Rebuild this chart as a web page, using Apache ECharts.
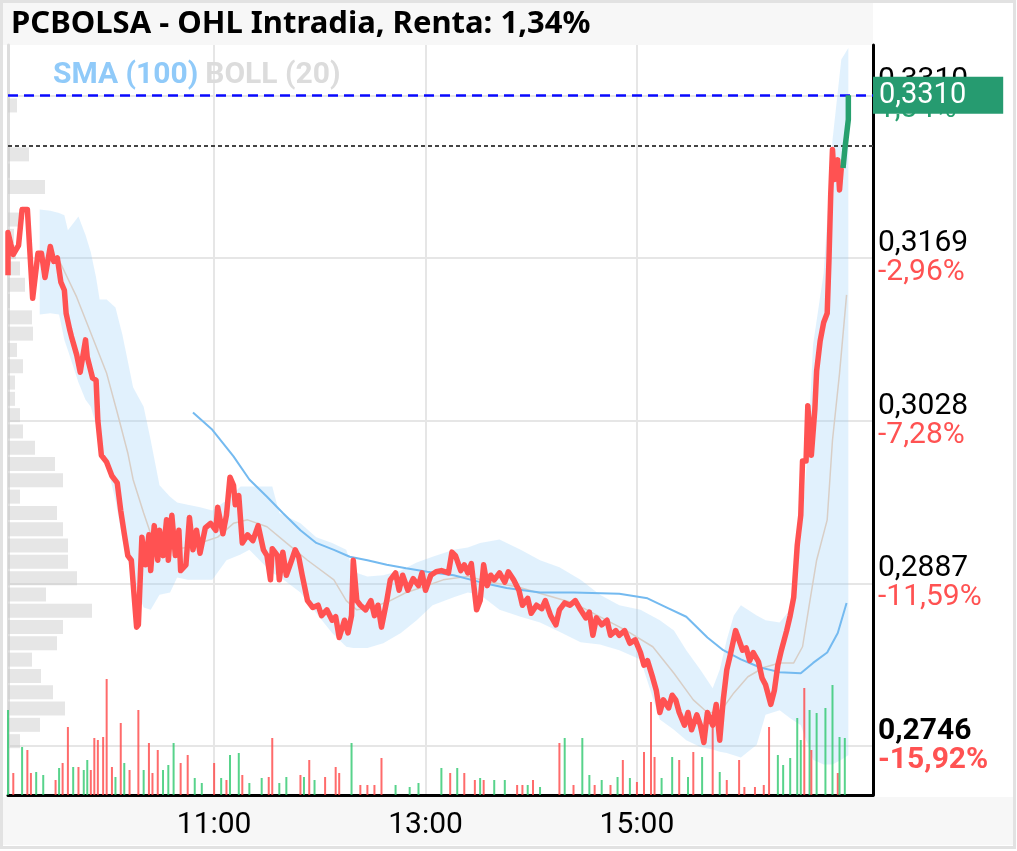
<!DOCTYPE html>
<html style="height: 100%">
<head>
<meta charset="utf-8">
</head>
<body style="height: 100%; margin: 0">
<div id="container" style="width: 1017px; height: 851px"></div>
<script type="text/javascript" src="https://cdn.jsdelivr.net/npm/echarts@6/dist/echarts.min.js"></script>
<script type="text/javascript">
var dom = document.getElementById('container');
var myChart = echarts.init(dom);

// minutes after 09:00
var timeTicks = [120, 240, 360];
var timeText = ['11:00', '13:00', '15:00'];

var priceTicks = [0.2746, 0.2887, 0.3028, 0.3169, 0.3310];
var tickText = ['0,2746', '0,2887', '0,3028', '0,3169', '0,3310'];
var tickPct = ['-15,92%', '-11,59%', '-7,28%', '-2,96%', '1,34%'];

var lastPrice = 0.3310;
var prevClose = 0.3266;

// intraday price (red part)
var priceMin = [3,3,6,9,11,14,17,20,22,24,27,29,31,33,35,36,38,39,42,44,
  47,48,51,53,54,56,59,62,65,67,69,71,73,76,77,79,81,83,84,86,
  88,89,91,93,94,96,98,100,101,104,106,108,110,112,115,118,121,122,125,127,
  129,131,132,134,136,139,142,145,148,150,152,153,156,157,159,161,164,166,168,170,
  173,176,179,181,184,187,189,191,194,196,198,199,201,203,206,209,211,213,215,218,
  220,223,225,227,230,233,236,238,240,243,246,249,253,255,257,260,262,264,266,269,
  271,273,275,277,279,282,285,287,290,293,295,298,300,303,306,308,311,314,316,319,
  322,325,328,331,333,335,337,340,343,345,348,350,353,356,359,362,364,366,369,371,
  373,375,378,380,382,384,387,389,391,394,396,398,400,403,405,407,409,411,413,416,
  417,420,422,424,426,429,431,433,436,438,440,442,445,447,449,451,453,454,456,457,
  459,461,462,464,466,468,469,470,471,472,474,475,476,477];
var price = [0.3154,0.3191,0.3172,0.3180,0.3211,0.3211,0.3134,0.3173,0.3173,0.3152,
  0.3179,0.3166,0.3169,0.3148,0.3141,0.3121,0.3107,0.3101,0.3085,0.3070,
  0.3098,0.3083,0.3065,0.3063,0.3028,0.2998,0.2992,0.2980,0.2974,0.2950,
  0.2930,0.2911,0.2907,0.2849,0.2851,0.2927,0.2903,0.2929,0.2898,0.2937,
  0.2907,0.2933,0.2911,0.2942,0.2907,0.2946,0.2911,0.2933,0.2898,0.2903,
  0.2944,0.2916,0.2933,0.2913,0.2935,0.2939,0.2933,0.2953,0.2930,0.2946,
  0.2979,0.2972,0.2955,0.2963,0.2922,0.2929,0.2924,0.2937,0.2916,0.2911,
  0.2890,0.2917,0.2911,0.2890,0.2914,0.2894,0.2907,0.2916,0.2910,0.2894,
  0.2872,0.2866,0.2868,0.2859,0.2864,0.2855,0.2858,0.2840,0.2855,0.2844,
  0.2859,0.2907,0.2872,0.2868,0.2864,0.2872,0.2859,0.2868,0.2849,0.2872,
  0.2890,0.2896,0.2881,0.2894,0.2881,0.2891,0.2885,0.2896,0.2881,0.2894,
  0.2897,0.2898,0.2896,0.2914,0.2911,0.2898,0.2903,0.2896,0.2904,0.2864,
  0.2872,0.2903,0.2885,0.2894,0.2890,0.2896,0.2888,0.2897,0.2890,0.2881,
  0.2868,0.2874,0.2861,0.2868,0.2865,0.2872,0.2859,0.2851,0.2864,0.2870,
  0.2868,0.2872,0.2864,0.2857,0.2862,0.2842,0.2857,0.2851,0.2855,0.2842,
  0.2846,0.2842,0.2846,0.2835,0.2838,0.2827,0.2816,0.2820,0.2805,0.2794,
  0.2775,0.2786,0.2779,0.2790,0.2786,0.2775,0.2764,0.2775,0.2760,0.2773,
  0.2764,0.2749,0.2775,0.2764,0.2782,0.2751,0.2786,0.2812,0.2825,0.2846,
  0.2842,0.2829,0.2831,0.2820,0.2827,0.2819,0.2805,0.2799,0.2782,0.2794,
  0.2816,0.2829,0.2846,0.2859,0.2875,0.2920,0.2946,0.2993,0.2993,0.3041,
  0.2998,0.3038,0.3071,0.3097,0.3113,0.3121,0.3167,0.3224,0.3263,0.3237,
  0.3254,0.3228,0.3247,0.3247];

// last minutes (green part)
var upMin = [477, 478, 479, 480, 480];
var upPrice = [0.3247, 0.3263, 0.3276, 0.3289, 0.3310];

// bollinger (20)
var bandMin = [21,27,32,35,37,43,47,50,53,55,59,64,68,74,80,84,89,95,99,105,
  112,119,127,135,140,153,157,169,178,187,195,199,207,216,226,235,244,256,264,271,
  282,294,305,316,328,339,350,362,373,381,388,396,403,407,411,415,419,428,433,441,
  447,453,457,460,466,471,476,480];
var bandUpper = [0.3211,0.3210,0.3208,0.3206,0.3193,0.3205,0.3189,0.3174,0.3152,0.3133,
  0.3133,0.3126,0.3102,0.3057,0.3040,0.3011,0.2972,0.2962,0.2957,0.2955,
  0.2953,0.2950,0.2959,0.2971,0.2971,0.2971,0.2948,0.2939,0.2927,0.2922,
  0.2916,0.2897,0.2893,0.2894,0.2898,0.2905,0.2910,0.2916,0.2918,0.2922,
  0.2925,0.2916,0.2907,0.2901,0.2890,0.2877,0.2868,0.2864,0.2855,0.2846,
  0.2829,0.2812,0.2796,0.2812,0.2838,0.2859,0.2868,0.2859,0.2855,0.2853,
  0.2864,0.2925,0.3003,0.3094,0.3156,0.3271,0.3341,0.3351];
var bandLower = [0.3120,0.3121,0.3120,0.3098,0.3089,0.3061,0.3046,0.3040,0.3024,0.3011,
  0.2991,0.2959,0.2925,0.2890,0.2866,0.2864,0.2877,0.2879,0.2892,0.2890,
  0.2890,0.2890,0.2907,0.2912,0.2916,0.2896,0.2893,0.2879,0.2861,0.2844,
  0.2832,0.2831,0.2831,0.2835,0.2844,0.2855,0.2868,0.2875,0.2879,0.2877,
  0.2864,0.2858,0.2853,0.2845,0.2836,0.2834,0.2829,0.2821,0.2769,0.2760,
  0.2751,0.2745,0.2743,0.2741,0.2740,0.2738,0.2736,0.2747,0.2773,0.2777,
  0.2770,0.2764,0.2747,0.2734,0.2730,0.2730,0.2734,0.2738];
var midMin = [21,32,42,50,59,65,71,74,80,84,93,105,112,122,131,139,150,161,173,188,
  195,201,210,220,229,239,250,264,277,292,324,354,369,381,392,400,407,415,423,432,
  441,449,454,458,462,468,471,475,479];
var midPrice = [0.3166,0.3167,0.3135,0.3104,0.3069,0.3035,0.3000,0.2977,0.2948,0.2930,
  0.2916,0.2918,0.2922,0.2927,0.2939,0.2942,0.2936,0.2922,0.2907,0.2890,
  0.2872,0.2864,0.2866,0.2872,0.2879,0.2884,0.2890,0.2893,0.2888,0.2884,
  0.2870,0.2846,0.2832,0.2809,0.2786,0.2775,0.2775,0.2792,0.2806,0.2814,
  0.2818,0.2818,0.2832,0.2870,0.2907,0.2942,0.3011,0.3069,0.3137];

// SMA (100)
var smaMin = [108,119,131,140,150,159,169,178,188,197,207,218,229,241,256,271,286,305,324,350,
  366,377,388,400,409,419,430,441,453,460,468,474,479];
var smaPrice = [0.3035,0.3020,0.2997,0.2977,0.2962,0.2948,0.2933,0.2922,0.2916,0.2910,
  0.2907,0.2903,0.2900,0.2897,0.2894,0.2888,0.2883,0.2879,0.2879,0.2878,
  0.2874,0.2866,0.2858,0.2840,0.2829,0.2821,0.2814,0.2810,0.2809,0.2818,
  0.2827,0.2844,0.2870];

// volume (thousands), 1 = up, 0 = down
var volMin = [3,6,11,14,16,19,23,30,32,34,37,40,43,46,48,50,52,54,57,59,
  62,64,67,69,72,77,80,83,85,88,91,94,97,101,105,109,113,120,124,127,
  129,134,136,140,147,151,153,157,161,169,171,174,177,183,189,191,198,203,207,211,
  215,223,231,236,249,254,258,262,268,271,273,279,285,292,295,298,301,305,316,319,
  324,329,333,336,340,345,349,352,356,360,364,368,370,374,380,384,389,392,397,403,
  407,411,418,421,427,432,435,440,443,447,451,453,455,458,459,462,467,471,474,475,478];
var volAmt = [850,220,480,450,220,230,200,150,270,320,680,280,280,250,350,250,570,550,580,1160,
  280,180,720,320,250,850,250,520,220,450,250,300,520,320,400,170,120,320,170,150,
  400,420,200,120,170,180,570,120,180,200,180,350,150,180,280,220,520,100,100,100,
  370,100,80,120,270,220,270,220,150,170,150,150,150,100,100,100,150,80,520,570,
  100,570,200,100,150,100,180,350,170,130,430,930,380,170,380,350,180,430,380,770,
  230,150,350,80,80,100,680,400,300,370,770,550,1070,850,450,820,870,1100,220,580,570];
var volUp = [1,0,1,0,0,1,1,0,1,0,0,1,0,1,1,0,0,0,0,0,
  0,1,0,1,0,0,1,0,0,0,1,1,1,0,0,1,1,0,1,0,
  1,1,0,1,1,0,0,1,1,0,1,0,1,0,0,0,1,0,0,0,
  0,1,1,1,1,0,1,0,0,1,0,1,1,0,0,1,0,1,0,1,
  0,1,1,0,1,0,1,0,1,0,0,0,0,1,1,0,1,0,1,0,
  1,0,0,0,0,0,0,1,1,1,1,1,0,1,0,1,1,1,0,1,1];

// volume profile per price bin, bottom to top
var profileVol = [12,32,57,45,33,24,49,55,84,38,69,60,60,55,49,12,55,47,27,15,
  12,7,7,15,9,25,24,2,17,12,8,6,15,0,37,2,21,0,0,9,0,0,0];
var profileBins = profileVol.map(function (v, i) { return 'b' + i; });

var RED = '#ff5252';
var GREEN = '#26a06e';

function tickIndex(v) {
    for (var i = 0; i < priceTicks.length; i++) {
        if (Math.abs(priceTicks[i] - v) < 1e-6) return i;
    }
    return -1;
}

function pairs(xs, ys) {
    return xs.map(function (x, i) { return [x, ys[i]]; });
}

var option = {
    animation: false,
    backgroundColor: '#fff',
    textStyle: { fontFamily: 'Roboto' },
    graphic: [
        { type: 'rect', z: -1, shape: { x: 3, y: 3, width: 870, height: 42 }, style: { fill: '#f7f7f7' } },
        { type: 'rect', z: -1, shape: { x: 3, y: 797, width: 1011, height: 48 }, style: { fill: '#f7f7f7' } },
        { type: 'rect', z: -1, shape: { x: 1.5, y: 1.5, width: 1013, height: 846 }, style: { fill: 'none', stroke: '#e2e2e2', lineWidth: 3 } }
    ],
    title: {
        text: 'PCBOLSA - OHL Intradia, Renta: 1,34%',
        left: 11,
        top: 9,
        padding: 0,
        textStyle: { fontFamily: 'Noto Sans', fontWeight: 'bold', fontSize: 31, color: '#000' }
    },
    legend: {
        left: 42,
        top: 55,
        itemWidth: 0,
        itemHeight: 0,
        itemGap: 2,
        selectedMode: false,
        textStyle: { fontSize: 30, fontWeight: 'bold', fontFamily: 'Roboto' },
        data: [
            { name: 'SMA (100)', textStyle: { color: '#90caf9' } },
            { name: 'BOLL (20)', textStyle: { color: '#dcdcdc' } }
        ]
    },
    grid: [
        { left: 8, right: 144, top: 45, bottom: 56 },
        { left: 8, right: 144, top: 48.4, bottom: 101.7 }
    ],
    xAxis: [
        {
            type: 'value',
            gridIndex: 0,
            min: 3,
            max: 494,
            axisLine: { show: true, lineStyle: { color: '#000', width: 3 } },
            axisTick: { show: false, customValues: timeTicks },
            axisLabel: {
                customValues: timeTicks,
                color: '#000',
                fontSize: 30,
                lineHeight: 30,
                margin: 15,
                formatter: function (v) {
                    var i = timeTicks.indexOf(v);
                    return i < 0 ? '' : timeText[i];
                }
            },
            splitLine: { show: true, lineStyle: { color: '#e6e6e6', width: 2 } }
        },
        {
            type: 'value',
            gridIndex: 1,
            min: 0,
            max: 865,
            show: false
        }
    ],
    yAxis: [
        {
            type: 'value',
            gridIndex: 0,
            position: 'right',
            min: 0.27035,
            max: 0.33536,
            axisLine: { show: true, lineStyle: { color: '#000', width: 3 } },
            axisTick: { show: false, customValues: priceTicks },
            axisLabel: {
                customValues: priceTicks,
                margin: 5,
                formatter: function (v) {
                    var i = tickIndex(v);
                    if (i < 0) return '';
                    if (i === 0) return '{vb|' + tickText[i] + '}\n{pb|' + tickPct[i] + '}';
                    if (i === priceTicks.length - 1) return '{v|' + tickText[i] + '}\n{pg|' + tickPct[i] + '}';
                    return '{v|' + tickText[i] + '}\n{p|' + tickPct[i] + '}';
                },
                rich: {
                    v: { color: '#000', fontSize: 30, lineHeight: 29 },
                    p: { color: RED, fontSize: 30, lineHeight: 29 },
                    vb: { color: '#000', fontSize: 30, lineHeight: 29, fontWeight: 'bold' },
                    pb: { color: RED, fontSize: 30, lineHeight: 29, fontWeight: 'bold' },
                    pg: { color: GREEN, fontSize: 30, lineHeight: 29 }
                }
            },
            splitLine: { show: true, lineStyle: { color: '#e6e6e6', width: 2 } }
        },
        {
            type: 'value',
            gridIndex: 0,
            position: 'left',
            min: 0,
            max: 7500,
            axisLine: { show: true, lineStyle: { color: '#dddddd', width: 3 } },
            axisTick: { show: false },
            axisLabel: { show: false },
            splitLine: { show: false }
        },
        {
            type: 'category',
            gridIndex: 1,
            data: profileBins,
            show: false
        }
    ],
    series: [
        {
            name: 'profile',
            type: 'bar',
            xAxisIndex: 1,
            yAxisIndex: 2,
            barWidth: 14,
            z: 1,
            silent: true,
            itemStyle: { color: 'rgba(200,200,200,0.45)' },
            data: profileVol
        },
        {
            name: 'BOLL (20)',
            type: 'custom',
            xAxisIndex: 0,
            yAxisIndex: 0,
            z: 2,
            silent: true,
            itemStyle: { color: '#dcdcdc' },
            encode: { x: 0, y: [1, 2] },
            data: bandMin.map(function (t, i) { return [t, bandUpper[i], bandLower[i]]; }),
            renderItem: function (params, api) {
                if (params.dataIndex !== 0) return;
                var pts = [];
                for (var i = 0; i < bandMin.length; i++) {
                    pts.push(api.coord([bandMin[i], bandUpper[i]]));
                }
                for (var j = bandMin.length - 1; j >= 0; j--) {
                    pts.push(api.coord([bandMin[j], bandLower[j]]));
                }
                return {
                    type: 'polygon',
                    shape: { points: pts },
                    style: { fill: 'rgba(144,202,249,0.27)' }
                };
            }
        },
        {
            name: 'boll-mid',
            type: 'line',
            xAxisIndex: 0,
            yAxisIndex: 0,
            z: 3,
            symbol: 'none',
            silent: true,
            lineStyle: { color: '#d8cec6', width: 1.5 },
            data: pairs(midMin, midPrice)
        },
        {
            name: 'volume',
            type: 'bar',
            xAxisIndex: 0,
            yAxisIndex: 1,
            barWidth: 2,
            z: 3,
            silent: true,
            itemStyle: {
                color: function (p) {
                    return volUp[p.dataIndex] ? 'rgba(46,200,110,0.8)' : 'rgba(255,70,70,0.8)';
                }
            },
            data: pairs(volMin, volAmt)
        },
        {
            name: 'SMA (100)',
            type: 'line',
            xAxisIndex: 0,
            yAxisIndex: 0,
            z: 4,
            symbol: 'none',
            itemStyle: { color: '#90caf9' },
            lineStyle: { color: '#74baf0', width: 2 },
            data: pairs(smaMin, smaPrice)
        },
        {
            name: 'price',
            type: 'line',
            xAxisIndex: 0,
            yAxisIndex: 0,
            z: 5,
            symbol: 'none',
            lineStyle: { color: RED, width: 5.5, join: 'round' },
            data: pairs(priceMin, price)
        },
        {
            name: 'price-up',
            type: 'line',
            xAxisIndex: 0,
            yAxisIndex: 0,
            z: 6,
            symbol: 'none',
            lineStyle: { color: GREEN, width: 5.5, join: 'round' },
            data: pairs(upMin, upPrice),
            markLine: {
                symbol: 'none',
                silent: true,
                precision: 4,
                animation: false,
                data: [
                    {
                        yAxis: prevClose,
                        lineStyle: { color: '#444', type: [4, 3], width: 2 },
                        label: { show: false }
                    },
                    {
                        yAxis: lastPrice,
                        lineStyle: { color: '#0a0aff', type: [10, 6], width: 2.5 },
                        label: {
                            show: true,
                            position: 'end',
                            distance: 0,
                            formatter: tickText[priceTicks.length - 1],
                            color: '#fff',
                            fontSize: 29,
                            fontFamily: 'Roboto',
                            lineHeight: 29,
                            backgroundColor: '#269b70',
                            padding: [4, 37, 4, 6]
                        }
                    }
                ]
            }
        }
    ]
};

myChart.setOption(option);
</script>
</body>
</html>
